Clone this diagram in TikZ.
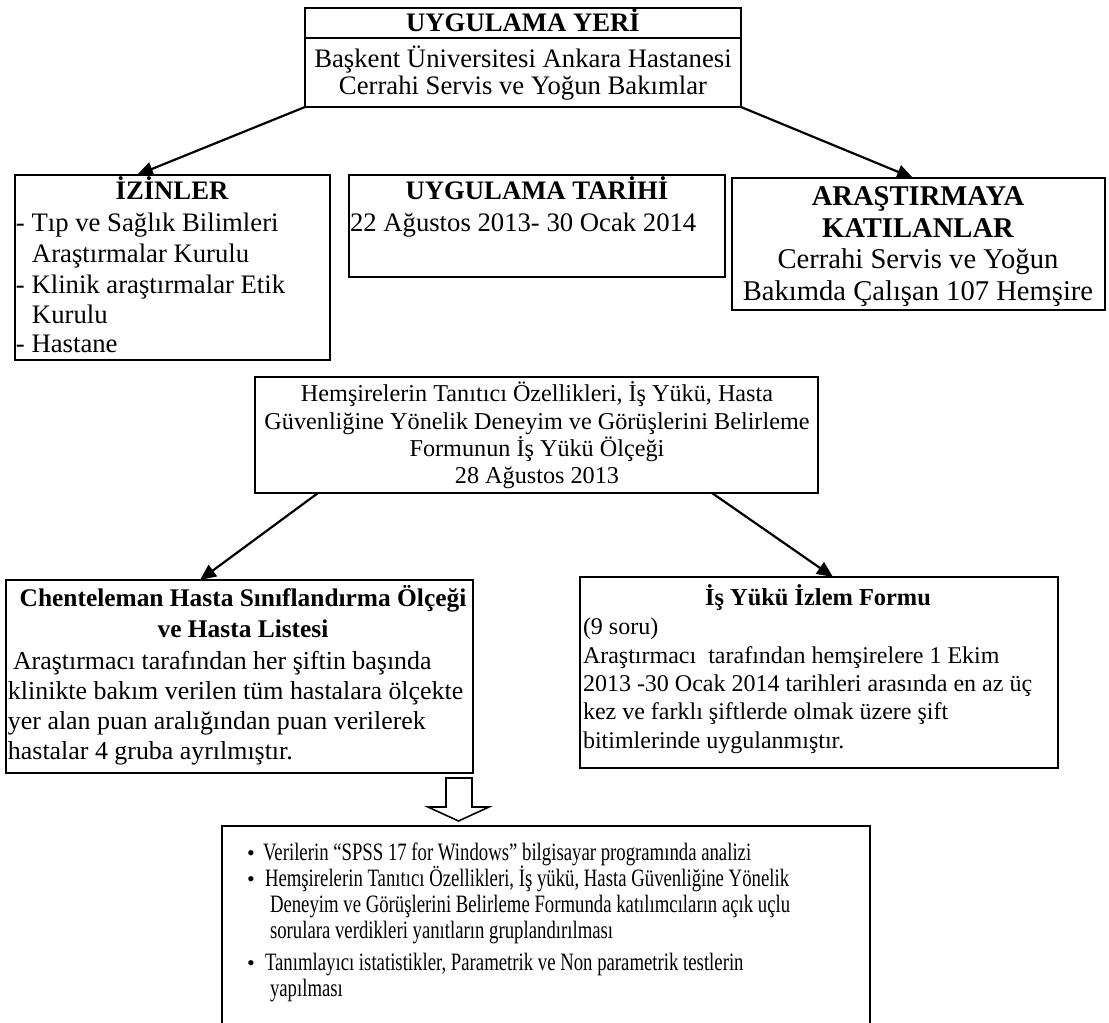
\documentclass[tikz,border=0pt]{standalone}
\usepackage{fontspec}
\setmainfont{Liberation Serif}
\newfontfamily\condfont[FakeStretch=0.75]{Liberation Serif}
\usetikzlibrary{arrows.meta,calc}
\begin{document}
\begin{tikzpicture}[x=0.5pt,y=-0.5pt,
  box/.style={draw,line width=0.8pt,inner sep=0pt,outer sep=0pt},
  lbl/.style={inner sep=0pt,outer sep=0pt},
  fA/.style={lbl,font=\fontsize{13.35pt}{15pt}\selectfont},
  fAb/.style={lbl,font=\fontsize{13.35pt}{15pt}\selectfont\bfseries},
  fK/.style={lbl,font=\fontsize{14.3pt}{16pt}\selectfont},
  fKb/.style={lbl,font=\fontsize{14.3pt}{16pt}\selectfont\bfseries},
  fM/.style={lbl,font=\fontsize{12.1pt}{14pt}\selectfont},
  fC/.style={lbl,font=\fontsize{12.95pt}{15pt}\selectfont},
  fCb/.style={lbl,font=\fontsize{12.7pt}{15pt}\selectfont\bfseries},
  fI/.style={lbl,font=\fontsize{12pt}{14pt}\selectfont},
  fIb/.style={lbl,font=\fontsize{12.2pt}{14pt}\selectfont\bfseries},
  fB/.style={lbl,font=\fontsize{12.5pt}{14pt}\condfont},
  bul/.style={lbl,font=\fontsize{11pt}{13pt}\selectfont},
  arr/.style={line width=1.1pt,-{Triangle[length=8pt,width=7pt]}}]
\useasboundingbox (0,0) rectangle (1109,1023);
\fill[white] (0,0) rectangle (1109,1023);
\clip (0,0) rectangle (1109,1023);

% boxes
\node[box,minimum width=218pt,minimum height=49.5pt] (yer) at (523,57.5) {};
\node[box,minimum width=157.5pt,minimum height=92.5pt] (izin) at (172.5,267.5) {};
\node[box,minimum width=188pt,minimum height=51pt] (tarih) at (537,226) {};
\node[box,minimum width=186.5pt,minimum height=66pt] (aras) at (918.5,244) {};
\node[box,minimum width=281.5pt,minimum height=58pt] (form) at (536.5,435) {};
\node[box,minimum width=233.5pt,minimum height=96.5pt] (chent) at (239.5,676.5) {};
\node[box,minimum width=239pt,minimum height=95.5pt] (isyuku) at (819,672.5) {};
\node[box,line width=1pt,minimum width=324pt,minimum height=110pt] (analiz) at (546,936) {};

% divider in top box
\draw[line width=0.8pt] ($(yer.north west)+(0,30)$) -- ($(yer.north east)+(0,30)$);

% connectors
\draw[arr] (yer.south west) -- ($(izin.north west)+(122,0)$);
\draw[arr] (yer.south east) -- ($(aras.north west)+(181,0)$);
\draw[arr] ($(form.south west)+(63,0)$) -- ($(chent.north west)+(194,0)$);
\draw[arr] ($(form.south west)+(457,0)$) -- ($(isyuku.north west)+(253,0)$);

% block arrow
\draw[line width=0.8pt,line join=miter] (446,778) -- (472,778) -- (472,807) -- (489,807) -- (458.5,821) -- (428,807) -- (446,807) -- cycle;

% top box text
\node[fAb,anchor=base] (yer-t) at (523,31) {UYGULAMA YERİ};
\node[fA,anchor=base] (yer-1) at (523,67) {Başkent Üniversitesi Ankara Hastanesi};
\node[fA,anchor=base] (yer-2) at (523,94) {Cerrahi Servis ve Yoğun Bakımlar};

% izinler
\node[fAb,anchor=base] (izin-t) at (172,199) {İZİNLER};
\node[fA,anchor=base west] (izin-1) at (16,231) {- Tıp ve Sağlık Bilimleri};
\node[fA,anchor=base west] (izin-2) at (32,262) {Araştırmalar Kurulu};
\node[fA,anchor=base west] (izin-3) at (16,293) {- Klinik araştırmalar Etik};
\node[fA,anchor=base west] (izin-4) at (32,323) {Kurulu};
\node[fA,anchor=base west] (izin-5) at (16,352) {- Hastane};

% tarih
\node[fAb,anchor=base] (tarih-t) at (537,199) {UYGULAMA TARİHİ};
\node[fA,anchor=base west] (tarih-1) at (350,231) {22 Ağustos 2013- 30 Ocak 2014};

% katilanlar
\node[fKb,anchor=base] (aras-t1) at (918,205) {ARAŞTIRMAYA};
\node[fKb,anchor=base] (aras-t2) at (918,237) {KATILANLAR};
\node[fK,anchor=base] (aras-1) at (918,268) {Cerrahi Servis ve Yoğun};
\node[fK,anchor=base] (aras-2) at (918,300) {Bakımda Çalışan 107 Hemşire};

% form
\node[fM,anchor=base] (form-1) at (537,401) {Hemşirelerin Tanıtıcı Özellikleri, İş Yükü, Hasta};
\node[fM,anchor=base] (form-2) at (537,429) {Güvenliğine Yönelik Deneyim ve Görüşlerini Belirleme};
\node[fM,anchor=base] (form-3) at (537,456) {Formunun İş Yükü Ölçeği};
\node[fM,anchor=base] (form-4) at (537,483) {28 Ağustos 2013};

% chenteleman
\node[fCb,anchor=base] (chent-t1) at (243,606) {Chenteleman Hasta Sınıflandırma Ölçeği};
\node[fCb,anchor=base] (chent-t2) at (243,637) {ve Hasta Listesi};
\node[fC,anchor=base west] (chent-1) at (13,669) {Araştırmacı tarafından her şiftin başında};
\node[fC,anchor=base west] (chent-2) at (8,699) {klinikte bakım verilen tüm hastalara ölçekte};
\node[fC,anchor=base west] (chent-3) at (8,729) {yer alan puan aralığından puan verilerek};
\node[fC,anchor=base west] (chent-4) at (8,759) {hastalar 4 gruba ayrılmıştır.};

% is yuku
\node[fIb,anchor=base] (isy-t) at (818,605) {İş Yükü İzlem Formu};
\node[fI,anchor=base west] (isy-1) at (583,634) {(9 soru)};
\node[fI,anchor=base west] (isy-2) at (583,663) {Araştırmacı~ tarafından hemşirelere 1 Ekim};
\node[fI,anchor=base west] (isy-3) at (583,691) {2013 -30 Ocak 2014 tarihleri arasında en az üç};
\node[fI,anchor=base west] (isy-4) at (583,719) {kez ve farklı şiftlerde olmak üzere şift};
\node[fI,anchor=base west] (isy-5) at (583,748) {bitimlerinde uygulanmıştır.};

% analysis box
\node[bul,anchor=base west] (b1) at (247,860) {•};
\node[fB,anchor=base west] (an-1) at (263,860) {Verilerin “SPSS 17 for Windows” bilgisayar programında analizi};
\node[bul,anchor=base west] (b2) at (247,886) {•};
\node[fB,anchor=base west] (an-2) at (265,886) {Hemşirelerin Tanıtıcı Özellikleri, İş yükü, Hasta Güvenliğine Yönelik};
\node[fB,anchor=base west] (an-3) at (270,912) {Deneyim ve Görüşlerini Belirleme Formunda katılımcıların açık uçlu};
\node[fB,anchor=base west] (an-4) at (270,938) {sorulara verdikleri yanıtların gruplandırılması};
\node[bul,anchor=base west] (b3) at (247,970) {•};
\node[fB,anchor=base west] (an-5) at (265,970) {Tanımlayıcı istatistikler, Parametrik ve Non parametrik testlerin};
\node[fB,anchor=base west] (an-6) at (270,996) {yapılması};
\end{tikzpicture}
\end{document}
